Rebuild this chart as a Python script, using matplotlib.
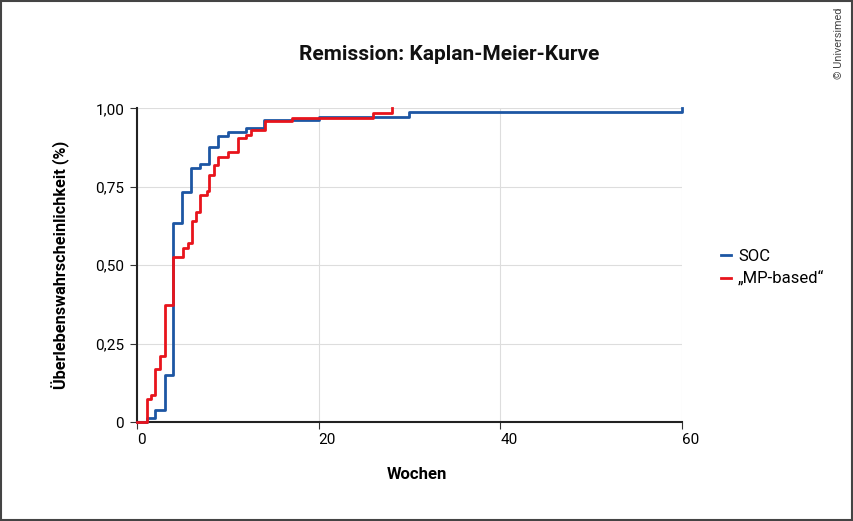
import numpy as np
import matplotlib.pyplot as plt
from matplotlib.patches import Rectangle

plt.rcParams['font.family'] = ['Roboto', 'DejaVu Sans']

# Kaplan-Meier Stufen (Wochen, kumulative Wahrscheinlichkeit)
soc_t = [0, 1.1, 2.0, 3.1, 4.0, 5.0, 6.0, 7.0, 8.0, 9.0, 10.0, 12.0, 14.0, 20.0, 29.9, 60.0]
soc_s = [0, 0.013, 0.037, 0.151, 0.635, 0.734, 0.81, 0.822, 0.876, 0.913, 0.926,
         0.936, 0.963, 0.973, 0.989, 1.0]

mp_t = [0, 1.1, 1.6, 2.0, 2.6, 3.1, 4.0, 5.1, 5.6, 6.1, 6.5, 7.0, 7.7, 8.0, 8.5,
        9.0, 10.0, 11.1, 12.0, 12.6, 14.1, 17.1, 26.0, 28.1]
mp_s = [0, 0.072, 0.085, 0.170, 0.211, 0.374, 0.527, 0.556, 0.571, 0.640, 0.668,
        0.723, 0.736, 0.787, 0.819, 0.846, 0.860, 0.904, 0.915, 0.931, 0.960,
        0.970, 0.984, 1.0]

labels = ['SOC', '„MP-based“']
colors = ['#1d56a3', '#e8141c']

xticks = [0, 20, 40, 60]
yticks = [0, 0.25, 0.5, 0.75, 1.0]
ytick_labels = ['0', '0,25', '0,50', '0,75', '1,00']

fig = plt.figure(figsize=(8.54, 5.21), dpi=100)
ax = fig.add_axes([0.16, 0.19, 0.639, 0.602])

ax.step(soc_t, soc_s, where='post', color=colors[0], lw=2.0, label=labels[0], clip_on=False, zorder=3)
ax.step(mp_t, mp_s, where='post', color=colors[1], lw=2.0, label=labels[1], clip_on=False, zorder=4)

ax.set_xlim(0, 60)
ax.set_ylim(0, 1.0)
ax.set_xticks(xticks)
ax.set_xticklabels([str(t) for t in xticks])
for lbl in ax.get_xticklabels():
    lbl.set_ha('left')
ax.set_yticks(yticks)
ax.set_yticklabels(ytick_labels)
ax.tick_params(axis='both', labelsize=11, length=5, width=0.8, color='#333333', pad=4)
ax.tick_params(axis='x', pad=3)
ax.grid(True, color='#dddddd', lw=0.8)
ax.set_axisbelow(True)

for s in ['top', 'right']:
    ax.spines[s].set_visible(False)
for s in ['left', 'bottom']:
    ax.spines[s].set_color('#222222')
    ax.spines[s].set_linewidth(1.5)

ax.set_ylabel('Überlebenswahrscheinlichkeit (%)', fontsize=11.7, fontweight='bold')
ax.yaxis.set_label_coords(-0.122, 0.5)
ax.set_xlabel('Wochen', fontsize=12, fontweight='bold')
ax.xaxis.set_label_coords(0.514, -0.145)

fig.text(449 / 854, 1 - 55 / 521, 'Remission: Kaplan-Meier-Kurve', ha='center', va='center',
         fontsize=15, fontweight='bold', color='#111111')

fig.legend(loc='upper left', bbox_to_anchor=(0.836, 0.535), frameon=False, fontsize=12,
           handlelength=0.6, handletextpad=0.45, labelspacing=0.45, borderaxespad=0)

fig.text(0.982, 0.985, '© Universimed', rotation=90, ha='center', va='top',
         fontsize=7.8, color='#444444')

fig.patches.append(Rectangle((0.001, 0.002), 0.997, 0.996, transform=fig.transFigure,
                             fill=False, edgecolor='#444444', lw=1.5))

fig.savefig('out.png', dpi=100)
